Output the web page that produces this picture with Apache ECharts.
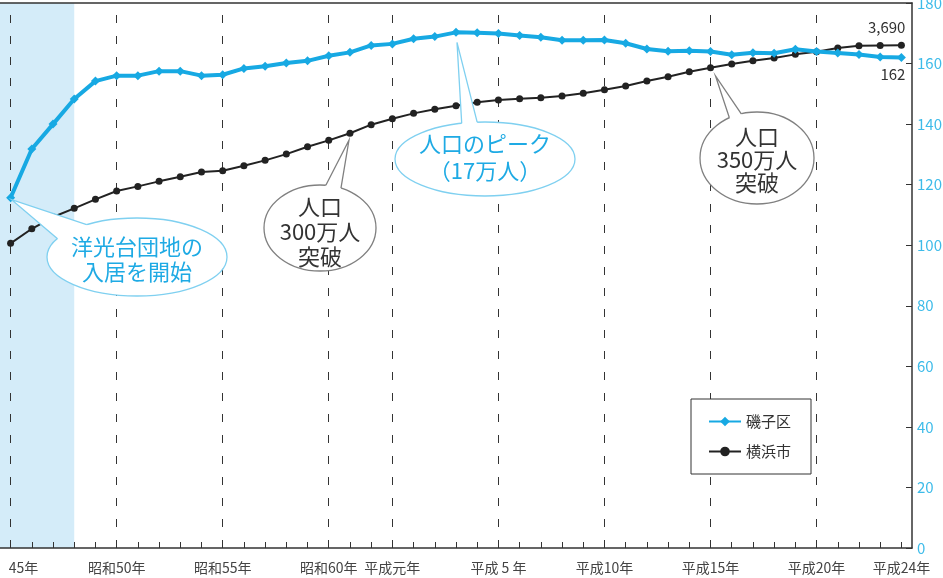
<!DOCTYPE html>
<html><head><meta charset="utf-8">
<script src="https://cdn.jsdelivr.net/npm/echarts@6/dist/echarts.min.js"></script>
<style>html,body{margin:0;padding:0;background:#fff}#c{width:943px;height:578px}</style>
</head><body><div id="c"></div>
<script>
// ---- data ----
const years = ['1970','1971','1972','1973','1974','1975','1976','1977','1978','1979',
  '1980','1981','1982','1983','1984','1985','1986','1987','1988','1989',
  '1990','1991','1992','1993','1994','1995','1996','1997','1998','1999',
  '2000','2001','2002','2003','2004','2005','2006','2007','2008','2009',
  '2010','2011','2012'];
const tickLabels = ['45年','','','','','昭和50年','','','','',
  '昭和55年','','','','','昭和60年','','','平成元年','',
  '','','','平成 5 年','','','','','平成10年','',
  '','','','平成15年','','','','','平成20年','',
  '','','平成24年'];
const dashedAt = [0,5,10,15,18,23,28,33,38];
const shadedUntil = 3;
// 磯子区 population (thousands)
const isogoValues = [115.7,131.8,140.0,148.3,154.2,156.0,156.0,157.5,157.5,156.0,
  156.3,158.4,159.1,160.2,160.9,162.6,163.7,166.0,166.5,168.2,
  168.9,170.3,170.2,169.9,169.3,168.7,167.7,167.7,167.8,166.7,
  164.8,164.1,164.2,164.0,162.9,163.6,163.4,164.7,164.0,163.5,
  163.0,162.2,162.0];
// 横浜市 population (thousands)
const yokohamaValues = [2236,2343,2429,2493,2559,2620,2654,2691,2725,2759,
  2769,2806,2845,2891,2945,2992,3044,3107,3151,3190,
  3220,3246,3271,3288,3298,3305,3317,3337,3364,3391,
  3427,3459,3496,3524,3552,3576,3596,3623,3642,3669,
  3686,3688,3690];
const seriesNames = ['磯子区','横浜市'];
const annotations = [
  {text:'洋光台団地の\n入居を開始', series:0, index:0, cx:137, cy:257, rx:90, ry:39, angles:[-152,-124], tipDx:1, tipDy:2, color:'#1eaae4', border:'#7fd0f0', lh:25, dy:2},
  {text:'人口\n300万人\n突破', series:1, index:16, cx:320, cy:228, rx:56, ry:43, angles:[-84,-68], tipDx:-1, tipDy:7, color:'#333', border:'#808080', lh:25, dy:4},
  {text:'人口のピーク\n（17万人）', series:0, index:21, cx:485, cy:159, rx:90, ry:37, angles:[-105,-95], tipDx:1, tipDy:10, color:'#1eaae4', border:'#7fd0f0', lh:27, dy:-2},
  {text:'人口\n350万人\n突破', series:1, index:33, cx:757, cy:158, rx:57, ry:46, angles:[-119,-106], tipDx:5, tipDy:8, color:'#333', border:'#808080', lh:23, dy:2}
];

const FONT = '"Noto Sans CJK JP", "Noto Sans", sans-serif';
const CYAN = '#17a9e3';
const chart = echarts.init(document.getElementById('c'), null, {renderer:'canvas'});
const last = isogoValues.length - 1;

chart.setOption({
  animation: false,
  backgroundColor: '#fff',
  textStyle: {fontFamily: FONT},
  grid: {left: 0, right: 31, top: 3, bottom: 30, containLabel: false, outerBoundsMode: 'none'},
  legend: {
    orient: 'vertical', left: 691, top: 399, z: 10,
    data: seriesNames, selectedMode: false,
    borderColor: '#333', borderWidth: 1, backgroundColor: '#fff',
    padding: [15, 20, 15, 17], itemGap: 15, itemWidth: 32, itemHeight: 12,
    textStyle: {fontSize: 15, color: '#333', fontFamily: FONT}
  },
  xAxis: [{
    type: 'category', data: years, boundaryGap: true, z: 6,
    axisLine: {lineStyle: {color: '#333', width: 1.5}},
    axisTick: {show: true, alignWithLabel: true, inside: true, length: 6, interval: 0, lineStyle: {color: '#333', width: 1}},
    axisLabel: {
      interval: (i) => tickLabels[i] !== '',
      formatter: (v, i) => i === 0 ? '{first|' + tickLabels[i] + '}' : tickLabels[i],
      color: '#444', fontSize: 14, margin: 13, fontFamily: FONT,
      rich: {first: {padding: [0, 0, 0, 26], fontSize: 14, color: '#444', fontFamily: FONT}}
    },
    splitLine: {show: false}
  }, {
    type: 'category', data: years, position: 'top', z: 6, show: true,
    axisLine: {show: true, onZero: false, lineStyle: {color: '#333', width: 1.5}},
    axisTick: {show: false}, axisLabel: {show: false}, splitLine: {show: false}
  }],
  yAxis: [{
    type: 'value', position: 'right', min: 0, max: 180, interval: 20, z: 6,
    axisLine: {show: true, lineStyle: {color: '#333', width: 1.5}},
    axisTick: {show: true, inside: true, length: 6, lineStyle: {color: '#333'}},
    axisLabel: {color: '#3dbbe9', fontSize: 15, margin: 5, fontFamily: FONT},
    splitLine: {show: false}
  }, {
    type: 'value', min: 0, max: 4000, show: false, splitLine: {show: false}
  }],
  series: [{
    name: seriesNames[0], type: 'line', data: isogoValues, yAxisIndex: 0, z: 3,
    symbol: 'diamond', symbolSize: 9, color: CYAN,
    lineStyle: {width: 4, color: CYAN}, itemStyle: {color: CYAN},
    label: {show: true, position: 'bottom', align: 'right', offset: [4, 0], distance: 5,
      color: '#333', fontSize: 15, fontFamily: FONT,
      formatter: (p) => p.dataIndex === last ? String(Math.round(p.value)) : ''},
    markArea: {silent: true, itemStyle: {color: '#d4ecf9'}, data: [[{}, {xAxis: shadedUntil}]]}
  }, {
    name: seriesNames[1], type: 'line', data: yokohamaValues, yAxisIndex: 1, z: 2,
    symbol: 'circle', symbolSize: 7, color: '#222',
    lineStyle: {width: 2, color: '#222'}, itemStyle: {color: '#222'},
    label: {show: true, position: 'top', align: 'right', offset: [4, 0], distance: 7,
      color: '#333', fontSize: 15, fontFamily: FONT,
      formatter: (p) => p.dataIndex === last ? p.value.toLocaleString('en-US') : ''},
    markLine: {silent: true, symbol: ['none', 'none'], z: 1,
      label: {show: false},
      lineStyle: {type: [8, 13], color: '#333', width: 1},
      data: dashedAt.map(i => ({xAxis: i}))}
  }]
});

function bubble(a) {
  const vals = a.series === 0 ? isogoValues : yokohamaValues;
  const tip = chart.convertToPixel({seriesIndex: a.series}, [a.index, vals[a.index]]);
  tip[0] += a.tipDx; tip[1] += a.tipDy;
  const pt = (deg, s) => [a.cx + a.rx * s * Math.cos(deg * Math.PI / 180), a.cy + a.ry * s * Math.sin(deg * Math.PI / 180)];
  const b1 = pt(a.angles[0], 1), b2 = pt(a.angles[1], 1);
  const b1i = pt(a.angles[0], 0.85), b2i = pt(a.angles[1], 0.85);
  return [
    {type: 'ellipse', z: 20, silent: true, shape: {cx: a.cx, cy: a.cy, rx: a.rx, ry: a.ry}, style: {fill: '#fff', stroke: a.border, lineWidth: 1.3}},
    {type: 'polygon', z: 21, silent: true, shape: {points: [b1i, b1, tip, b2, b2i]}, style: {fill: '#fff'}},
    {type: 'polyline', z: 22, silent: true, shape: {points: [b1, tip, b2]}, style: {stroke: a.border, lineWidth: 1.3, fill: null}},
    {type: 'text', z: 23, silent: true, style: {text: a.text, x: a.cx, y: a.cy + a.dy, align: 'center', verticalAlign: 'middle',
      fill: a.color, fontSize: 22, fontFamily: FONT, lineHeight: a.lh}}
  ];
}
chart.setOption({graphic: annotations.flatMap(bubble)});
</script>
</body></html>
